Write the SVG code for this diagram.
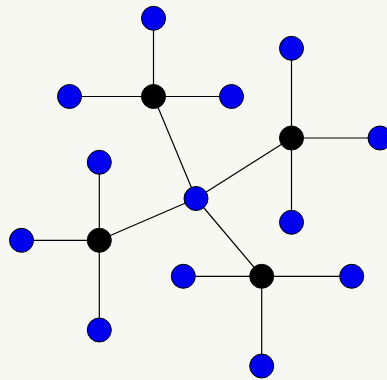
<svg xmlns="http://www.w3.org/2000/svg" width="387" height="380" viewBox="0 0 387 380">
<style>
.e{stroke:#000;stroke-width:1.2;fill:none}
.h{fill:#000;stroke:#000;stroke-width:1}
.l{fill:#0000ee;stroke:#000;stroke-width:1}
</style>
<rect width="387" height="380" fill="#f8f8f2"/>
<g id="connectors">
<line class="e" x1="153.5" y1="96.5" x2="153.5" y2="18.3"/>
<line class="e" x1="153.5" y1="96.5" x2="69.5" y2="96.5"/>
<line class="e" x1="153.5" y1="96.5" x2="231.5" y2="96.5"/>
<line class="e" x1="153.5" y1="96.5" x2="196" y2="198.5"/>
<line class="e" x1="291.5" y1="138" x2="291.5" y2="48.3"/>
<line class="e" x1="291.5" y1="138" x2="380" y2="138"/>
<line class="e" x1="291.5" y1="138" x2="291.5" y2="222.3"/>
<line class="e" x1="291.5" y1="138" x2="196" y2="198.5"/>
<line class="e" x1="99.3" y1="240.3" x2="21.5" y2="240.3"/>
<line class="e" x1="99.3" y1="240.3" x2="99.3" y2="162.3"/>
<line class="e" x1="99.3" y1="240.3" x2="99.3" y2="330"/>
<line class="e" x1="99.3" y1="240.3" x2="196" y2="198.5"/>
<line class="e" x1="261.7" y1="276.3" x2="183.3" y2="276.3"/>
<line class="e" x1="261.7" y1="276.3" x2="351.7" y2="276.3"/>
<line class="e" x1="261.7" y1="276.3" x2="261.7" y2="366"/>
<line class="e" x1="261.7" y1="276.3" x2="196" y2="198.5"/>
</g>
<g id="hubA"><circle class="h" cx="153.5" cy="96.5" r="12"/></g>
<g id="hubB"><circle class="h" cx="291.5" cy="138" r="12"/></g>
<g id="hubD"><circle class="h" cx="99.3" cy="240.3" r="12"/></g>
<g id="hubE"><circle class="h" cx="261.7" cy="276.3" r="12"/></g>
<g id="center"><circle class="l" cx="196" cy="198.5" r="12"/></g>
<g id="a1"><circle class="l" cx="153.5" cy="18.3" r="12"/></g>
<g id="a2"><circle class="l" cx="69.5" cy="96.5" r="12"/></g>
<g id="a3"><circle class="l" cx="231.5" cy="96.5" r="12"/></g>
<g id="b1"><circle class="l" cx="291.5" cy="48.3" r="12"/></g>
<g id="b2"><circle class="l" cx="380" cy="138" r="12"/></g>
<g id="b3"><circle class="l" cx="291.5" cy="222.3" r="12"/></g>
<g id="d1"><circle class="l" cx="21.5" cy="240.3" r="12"/></g>
<g id="d2"><circle class="l" cx="99.3" cy="162.3" r="12"/></g>
<g id="d3"><circle class="l" cx="99.3" cy="330" r="12"/></g>
<g id="e1"><circle class="l" cx="183.3" cy="276.3" r="12"/></g>
<g id="e2"><circle class="l" cx="351.7" cy="276.3" r="12"/></g>
<g id="e3"><circle class="l" cx="261.7" cy="366" r="12"/></g>
</svg>
